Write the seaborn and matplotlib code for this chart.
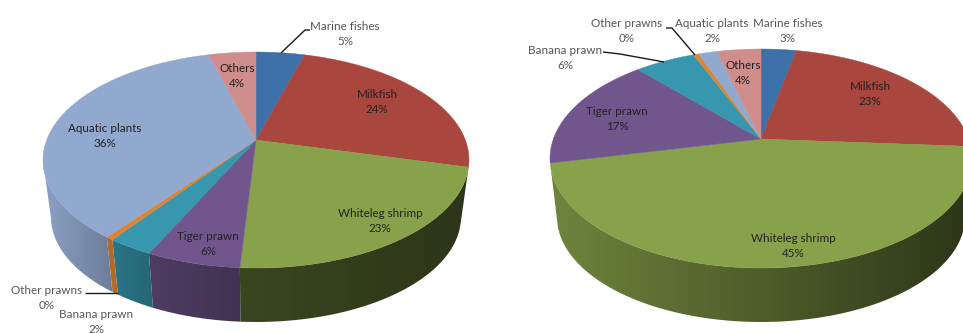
import numpy as np
import matplotlib
matplotlib.use("Agg")
import matplotlib.pyplot as plt
from matplotlib.patches import PathPatch
from matplotlib.path import Path
from matplotlib.colors import to_rgb
import seaborn as sns

species = ["Marine fishes", "Milkfish", "Whiteleg shrimp", "Tiger prawn",
           "Banana prawn", "Other prawns", "Aquatic plants", "Others"]
# slice shares
shares_left = [4.4, 24.6, 22.0, 6.0, 2.9, 0.5, 35.3, 4.3]
shares_right = [3.2, 22.9, 45.4, 16.8, 5.5, 0.5, 1.7, 4.0]
# printed percentage labels
labels_left = ["5%", "24%", "23%", "6%", "2%", "0%", "36%", "4%"]
labels_right = ["3%", "23%", "45%", "17%", "6%", "0%", "2%", "4%"]

palette = sns.color_palette(["#3D70A8", "#A9463E", "#87A24A", "#70568C",
                             "#3797AE", "#DC8535", "#92A9CF", "#CF8E8C"])

# side-wall shading of each slice: (start, end) brightness, left to right
shade_left = [(.6, .6), (.5, .5), (.43, .33), (.7, .58), (.78, .68), (.8, .8), (.95, .74), (.7, .7)]
shade_right = [(.6, .6), (.5, .5), (.82, .33), (.7, .6), (.75, .7), (.8, .8), (.9, .8), (.7, .7)]

# label anchors in pixels
pos_left = [(345, 34), (377, 102), (380, 221), (208, 244),
            (96, 322), (47, 298), (105, 136), (237, 76)]
pos_right = [(788, 31), (870, 94), (793, 246), (617, 119),
             (565, 58), (627, 31), (712, 31), (743, 73)]
outside_left = {0, 4, 5}
outside_right = {0, 4, 5, 6}

leaders_left = [[(281, 53), (305, 30), (310, 30)], [(85, 293), (118, 293)]]
leaders_right = [[(603, 52), (620, 54), (664, 62)], [(666, 28), (672, 28), (695, 55)]]

W, H = 963, 333
sns.set_theme(style="white")
plt.rcParams["font.family"] = ["Lato", "DejaVu Sans"]
fig = plt.figure(figsize=(W / 100, H / 100), dpi=100, facecolor="white")


def project(theta, a):
    """Unit-circle angle (clockwise from top) to the tilted-disc ellipse."""
    x, y = np.sin(theta), np.cos(theta)
    d = 1 + a * y
    return x * np.sqrt(1 - a * a) / d, (y + a) / d


def draw_pie(ax, shares, pct, shades, pos, outside, leaders, cx, cy, rx, ry, apex_y,
             rx_low, ry_low, cy_low):
    a = (cy - apex_y) / ry
    bounds = np.concatenate([[0], np.cumsum(shares)]) / np.sum(shares) * 2 * np.pi
    # side wall: a horizontal gradient clipped to the wall of each slice
    for i, color in enumerate(palette):
        th = np.linspace(bounds[i], bounds[i + 1], 300)
        X, Y = project(th, a)
        keep = Y <= 0.0
        if keep.sum() < 2:
            continue
        X, Y = X[keep], Y[keep]
        top_x, top_y = cx + rx * X, cy - ry * Y
        low_x, low_y = cx + rx_low * X, cy_low - ry_low * Y
        if top_x.max() - top_x.min() < 2:
            continue
        vx = np.concatenate([top_x, low_x[::-1]])
        vy = np.concatenate([top_y, low_y[::-1]])
        s0, s1 = shades[i]
        grad = np.linspace(s0, s1, 128)[None, :, None] * np.array(to_rgb(color))[None, None, :]
        im = ax.imshow(grad, extent=(vx.min(), vx.max(), vy.max(), vy.min()),
                       aspect="auto", interpolation="bilinear", zorder=2)
        patch = PathPatch(Path(np.column_stack([vx, vy])), transform=ax.transData,
                          facecolor="none", edgecolor="none")
        ax.add_patch(patch)
        im.set_clip_path(patch)
    # top face
    for i, color in enumerate(palette):
        th = np.linspace(bounds[i], bounds[i + 1], 200)
        X, Y = project(th, a)
        xs = np.concatenate([[cx], cx + rx * X])
        ys = np.concatenate([[apex_y], cy - ry * Y])
        ax.fill(xs, ys, color=color, lw=0.3, zorder=3)
    # leaders
    for pts in leaders:
        ax.plot(*zip(*pts), color="#1a1a1a", lw=1.0, zorder=4, solid_capstyle="butt")
    # labels
    for i, name in enumerate(species):
        ax.text(pos[i][0], pos[i][1], f"{name}\n{pct[i]}", ha="center", va="center",
                fontsize=8.4, linespacing=1.36, zorder=5,
                color="#555555" if i in outside else "#222222")


for (x0, x1), data in zip(
    [(0, 500), (500, 963)],
    [(shares_left, labels_left, shade_left, pos_left, outside_left, leaders_left,
      256, 160, 213, 108, 140, 205, 105, 217),
     (shares_right, labels_right, shade_right, pos_right, outside_right, leaders_right,
      761, 158.5, 211, 109.5, 139, 204, 105, 217)],
):
    ax = fig.add_axes([x0 / W, 0, (x1 - x0) / W, 1])
    ax.set_xlim(x0, x1)
    ax.set_ylim(H, 0)
    ax.axis("off")
    draw_pie(ax, *data)
    ax.set_xlim(x0, x1)
    ax.set_ylim(H, 0)

fig.savefig("out.png", dpi=100, facecolor="white")
